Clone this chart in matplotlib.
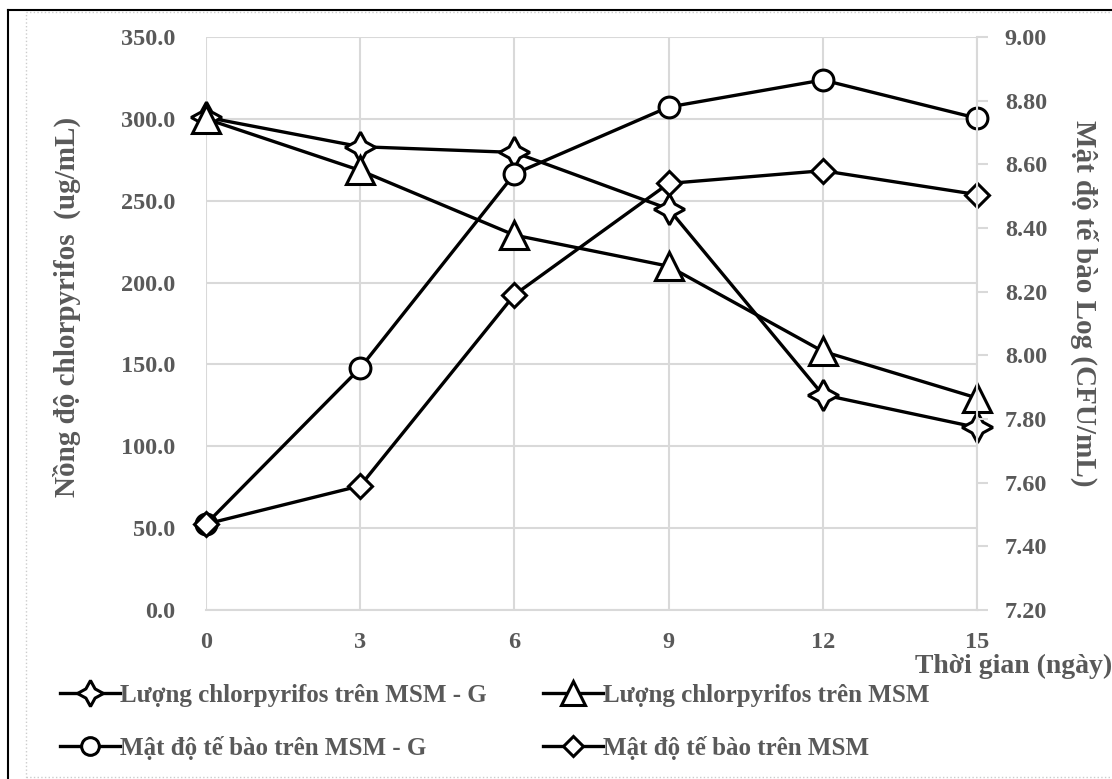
import matplotlib
matplotlib.use('Agg')
import matplotlib.pyplot as plt
from matplotlib.lines import Line2D
from matplotlib.patches import Rectangle

# days
days = [0, 3, 6, 9, 12, 15]

# chlorpyrifos (ug/mL), left axis
clo_msm_g = [301.0, 283.0, 279.5, 245.0, 131.5, 111.5]
clo_msm = [300.0, 268.5, 229.0, 210.0, 158.0, 129.5]

# cell density Log (CFU/mL), right axis
cell_msm_g = [7.47, 7.96, 8.57, 8.78, 8.865, 8.745]
cell_msm = [7.47, 7.59, 8.19, 8.54, 8.58, 8.505]

left_ticks = [0, 50, 100, 150, 200, 250, 300, 350]
right_ticks = [7.2, 7.4, 7.6, 7.8, 8.0, 8.2, 8.4, 8.6, 8.8, 9.0]

labels_col1 = ['Lượng chlorpyrifos trên MSM - G', 'Mật độ tế bào trên MSM - G']
labels_col2 = ['Lượng chlorpyrifos trên MSM', 'Mật độ tế bào trên MSM']

gray = '#595959'
grid = '#d9d9d9'
font = 'Liberation Serif'

W, H = 1112, 779
fig = plt.figure(figsize=(W / 100, H / 100), dpi=100)

# outer frame bits
fig.add_artist(Line2D([8 / W, 1], [1 - 10 / H, 1 - 10 / H], color='black', lw=1.5))
fig.add_artist(Line2D([8 / W, 8 / W], [0, 1 - 10 / H], color='black', lw=1.5))
fig.add_artist(Rectangle((26 / W, 2 / H), 1.2, 1 - 14 / H, fill=False,
                         edgecolor='#cccccc', lw=1, ls=':'))

ax = fig.add_axes([206 / W, 1 - 610 / H, (977 - 206) / W, (610 - 37) / H])
ax2 = ax.twinx()

star = (4, 1, 0)
lk = dict(color='black', lw=2.4, mfc='white', mec='black', mew=2.2, clip_on=False)

l1, = ax.plot(days, clo_msm_g, marker=star, ms=22, **lk)
l3, = ax.plot(days, clo_msm, marker='^', ms=20, **lk)
l2, = ax2.plot(days, cell_msm_g, marker='o', ms=15, **lk)
l4, = ax2.plot(days, cell_msm, marker='D', ms=12.5, **lk)

ax.set_xlim(0, 15)
ax.set_ylim(0, 350)
ax2.set_ylim(7.2, 9.0)
ax.set_xticks(days)
ax.set_yticks(left_ticks)
ax.set_yticklabels(['%.1f' % v for v in left_ticks])
ax2.set_yticks(right_ticks)
ax2.set_yticklabels(['%.2f' % v for v in right_ticks])

ax.grid(True, color=grid, lw=1.5)
ax.set_axisbelow(True)
for a in (ax, ax2):
    for s in a.spines.values():
        s.set_visible(False)
ax2.spines['right'].set_visible(True)
ax2.spines['right'].set_color(grid)
ax2.spines['right'].set_linewidth(1.5)
ax.spines['bottom'].set_visible(True)
ax.spines['bottom'].set_color(grid)
ax.spines['bottom'].set_linewidth(1.5)

tick_font = dict(family=font, weight='bold', size=17.5)
ax.tick_params(axis='y', length=0, pad=22, labelcolor=gray)
ax.tick_params(axis='x', length=0, pad=16, labelcolor=gray)
ax2.tick_params(axis='y', length=8, width=1.5, color=grid, pad=12, labelcolor=gray)
for t in ax.get_xticklabels() + ax.get_yticklabels() + ax2.get_yticklabels():
    t.set_fontproperties(tick_font)

label_font = dict(family=font, weight='bold', color=gray)
fig.text(67 / W, 1 - 307 / H, 'Nồng độ chlorpyrifos  (ug/mL)', rotation=90,
         ha='center', va='center', size=21, **label_font)
fig.text(1084 / W, 1 - 303 / H, 'Mật độ tế bào Log (CFU/mL)', rotation=-90,
         ha='center', va='center', size=21, **label_font)
fig.text(915 / W, 1 - 666 / H, 'Thời gian (ngày)', ha='left', va='center',
         size=20, **label_font)

leg_kw = dict(loc='center left', frameon=False,
              prop=dict(family=font, weight='bold', size=18),
              handlelength=2.4, handletextpad=0.0, labelspacing=1.15,
              borderaxespad=0, borderpad=0, markerscale=0.85)
leg1 = fig.legend([l1, l2], labels_col1, bbox_to_anchor=(60 / W, 1 - 722 / H), **leg_kw)
leg2 = fig.legend([l3, l4], labels_col2, bbox_to_anchor=(543 / W, 1 - 722 / H), **leg_kw)
for leg in (leg1, leg2):
    for t in leg.get_texts():
        t.set_color(gray)

fig.savefig('out.png', dpi=100)
